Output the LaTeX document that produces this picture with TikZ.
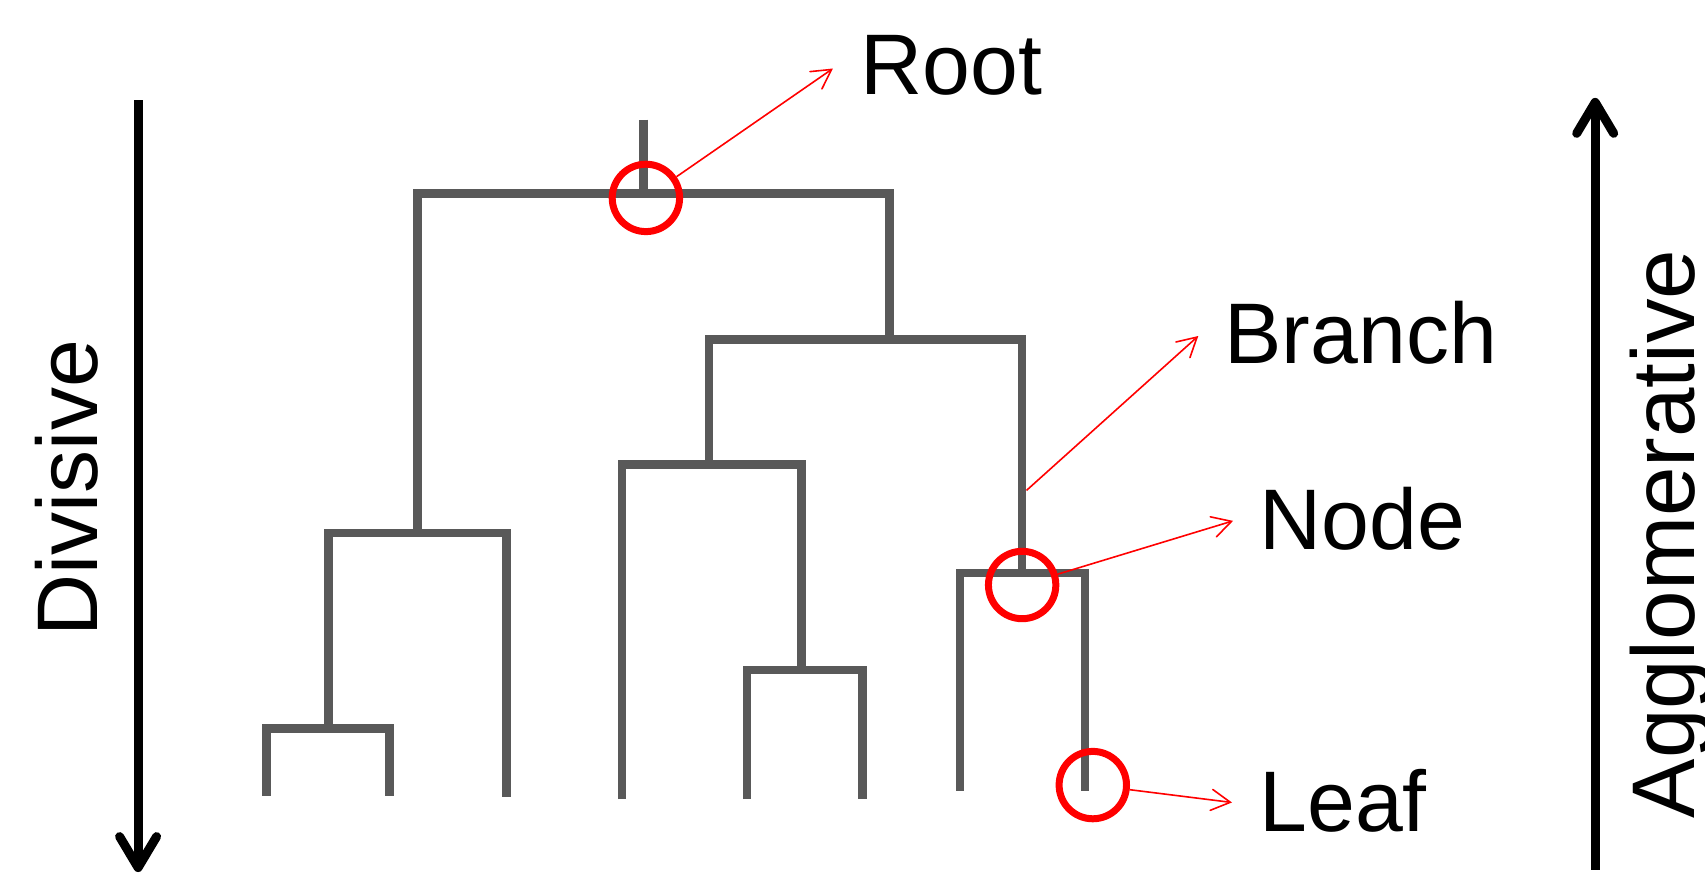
\documentclass[tikz,border=0pt]{standalone}
\usepackage{fontspec}
\setmainfont{Liberation Sans}
\usetikzlibrary{arrows.meta}
\definecolor{dgray}{RGB}{89,89,89}
\definecolor{pred}{RGB}{255,0,0}
\begin{document}
\begin{tikzpicture}[x=1.08737pt,y=-1.08737pt,
  dendro/.style={draw=dgray,line width=8.5pt,line cap=butt,line join=miter},
  ringc/.style={circle,draw=pred,line width=7pt,minimum size=67.4pt,inner sep=0pt},
  redarrow/.style={draw=pred,line width=1.6pt,-{Straight Barb[length=19pt,width=21pt,line cap=round]}},
  bigarrow/.style={draw=black,line width=9pt,-{Straight Barb[length=31pt,width=37pt,line cap=round,line join=round]}},
  lbl/.style={inner sep=0pt,font=\fontsize{86}{86}\selectfont}]
\useasboundingbox (0,0) rectangle (1568,813);
% dendrogram
\draw[dendro] (592,110)--(592,178);
\draw[dendro] (384,490)--(384,178)--(818,178)--(818,312);
\draw[dendro] (652,427)--(652,312)--(940,312)--(940,527);
\draw[dendro] (572,735)--(572,427)--(737,427)--(737,616);
\draw[dendro] (687,735)--(687,616)--(793,616)--(793,735);
\draw[dendro] (302,670)--(302,490)--(466,490)--(466,733);
\draw[dendro] (245,732)--(245,670)--(358,670)--(358,732);
\draw[dendro] (883,727)--(883,527)--(998,527)--(998,727);
% side arrows
\coordinate (dtop) at (127,92);
\coordinate (dbot) at (127,802);
\coordinate (atop) at (1467,90);
\coordinate (abot) at (1467,800);
\draw[bigarrow] (dtop) -- (dbot);
\draw[bigarrow] (abot) -- (atop);
\node[lbl,rotate=90,anchor=base] (div) at (90,449) {Divisive};
\node[lbl,font=\fontsize{89}{89}\selectfont,rotate=90,anchor=base] (agg) at (1558,491) {Agglomerative};
% rings
\node[ringc] (rootc) at (594,182) {};
\node[ringc] (nodec) at (940,538) {};
\node[ringc] (leafc) at (1005,722) {};
% labels
\node[lbl,anchor=base west] (root) at (791,87) {Root};
\node[lbl,anchor=base west] (branch) at (1126,334) {Branch};
\node[lbl,anchor=base west] (nodet) at (1158,505) {Node};
\node[lbl,anchor=base west] (leaf) at (1158,765) {Leaf};
% pointer arrows
\coordinate (roottip) at (766,63);
\coordinate (branchpt) at (944,451);
\coordinate (branchtip) at (1102,309);
\coordinate (nodetip) at (1134,479);
\coordinate (leaftip) at (1133,738);
\draw[redarrow] (rootc) -- (roottip);
\draw[redarrow] (branchpt) -- (branchtip);
\draw[redarrow] (nodec) -- (nodetip);
\draw[redarrow] (leafc) -- (leaftip);
\end{tikzpicture}
\end{document}
